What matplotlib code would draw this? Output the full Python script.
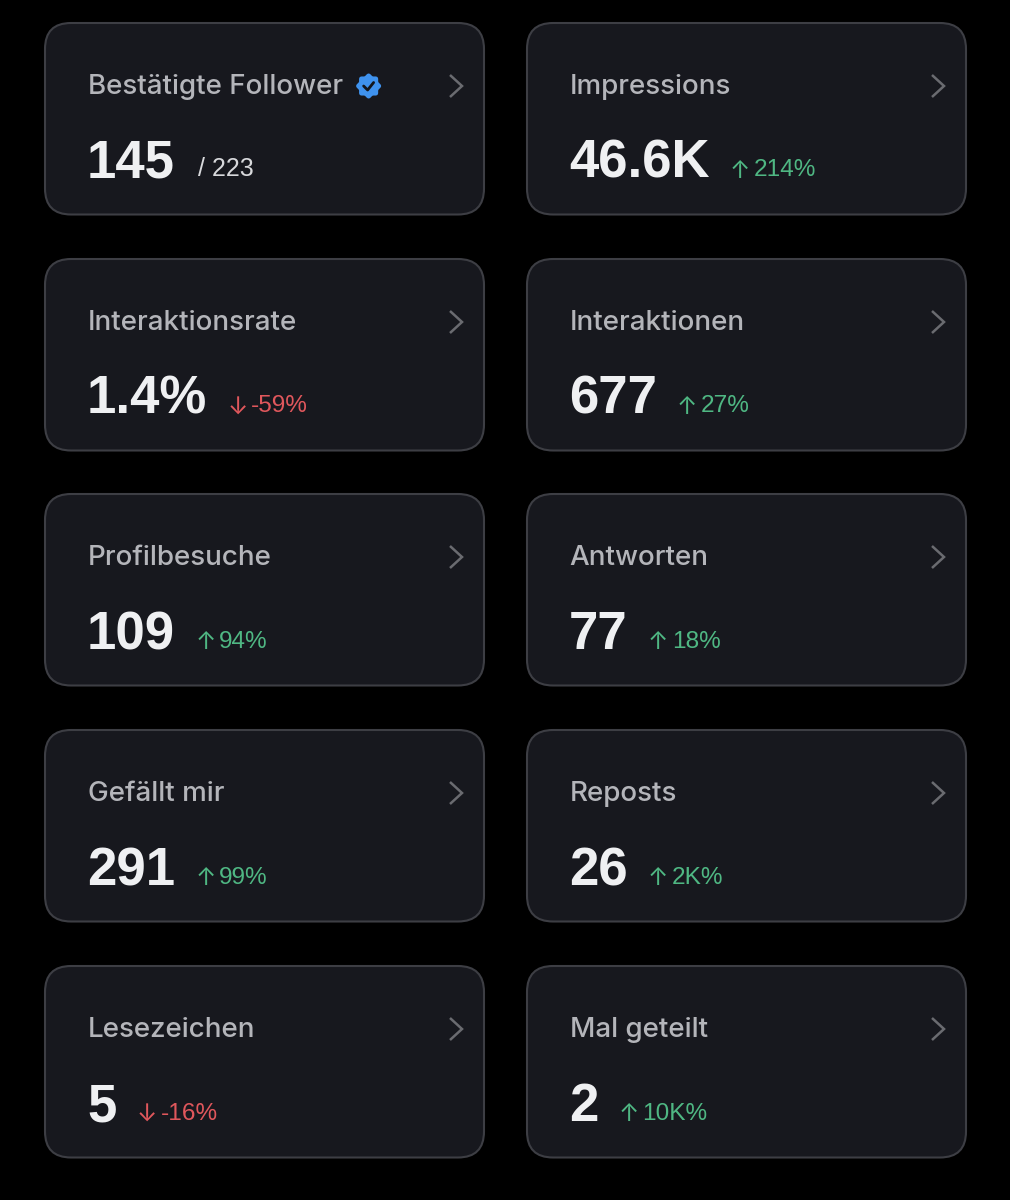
import numpy as np
import matplotlib
matplotlib.use('Agg')
from matplotlib import pyplot as plt
from matplotlib.patches import FancyBboxPatch, Polygon

labels = ['Bestätigte Follower', 'Impressions', 'Interaktionsrate', 'Interaktionen', 'Profilbesuche',
          'Antworten', 'Gefällt mir', 'Reposts', 'Lesezeichen', 'Mal geteilt']
values = ['145', '46.6K', '1.4%', '677', '109', '77', '291', '26', '5', '2']
deltas = ['/ 223', '↑ 214%', '↓ -59%', '↑ 27%', '↑ 94%', '↑ 18%', '↑ 99%', '↑ 2K%', '↓ -16%', '↑ 10K%']

bg = '#000000'
card_bg = '#17181e'
card_edge = '#3d3e44'
label_col = '#b4b5ba'
value_col = '#eff0f2'
green = '#4fb783'
red = '#e0575c'
chevron_col = '#6a6b70'

card_w = 439
card_h = 191.5
lefts = [45, 527]
tops = [23, 259, 494, 730, 966]

fig = plt.figure(figsize=(10.1, 12), dpi=100, facecolor=bg)
ax = fig.add_axes([0, 0, 1, 1])
ax.set_xlim(0, 1010)
ax.set_ylim(1200, 0)
ax.axis('off')

renderer = fig.canvas.get_renderer()

for i, label in enumerate(labels):
    x0 = lefts[i % 2]
    y0 = tops[i // 2]
    ax.add_patch(FancyBboxPatch((x0 + 24, y0 + 24), card_w - 48, card_h - 48,
                                boxstyle='round,pad=24,rounding_size=26',
                                fc=card_bg, ec=card_edge, lw=1.5))

    # label, big number, then the delta placed after the measured number
    lab = ax.text(x0 + 42.5, y0 + 71, label, color=label_col, fontsize=20,
                  family='Inter', fontweight='medium', va='baseline')
    val = ax.text(x0 + 42, y0 + 155, values[i], color=value_col, fontsize=38,
                  family='Liberation Sans', fontweight='bold', va='baseline')
    val_end = ax.transData.inverted().transform(val.get_window_extent(renderer))[1, 0]

    d = deltas[i]
    if d[0] in '↑↓':
        col = green if d[0] == '↑' else red
        ax.text(val_end + 20, y0 + 155, d[0], color=col, fontsize=17.5,
                family='Inter', va='baseline')
        ax.text(val_end + 44, y0 + 153.5, d[2:], color=col, fontsize=17.6,
                family='Liberation Sans', va='baseline')
    else:
        ax.text(val_end + 23, y0 + 153.5, d, color='#d8d9dc', fontsize=18,
                family='Liberation Sans', va='baseline')

    # chevron at the right of the card
    cx = x0 + 405
    cy = y0 + 63
    ax.plot([cx, cx + 12, cx], [cy - 11, cy, cy + 11], color=chevron_col, lw=1.8,
            solid_joinstyle='miter', solid_capstyle='butt')

    # verified badge behind the first label
    if i == 0:
        lab_end = ax.transData.inverted().transform(lab.get_window_extent(renderer))[1, 0]
        bx = lab_end + 26
        by = y0 + 63
        ang = np.linspace(0, 2 * np.pi, 97)
        rad = 11.5 + 1.0 * np.cos(8 * ang)
        ax.add_patch(Polygon(np.column_stack([bx + rad * np.cos(ang), by + rad * np.sin(ang)]),
                             closed=True, fc='#3f92ee', ec='none'))
        ax.plot([bx - 5, bx - 1, bx + 5], [by, by + 4, by - 3.5], color='#14161c', lw=2,
                solid_capstyle='round', solid_joinstyle='round')

fig.savefig('out.png', dpi=100, facecolor=bg)
